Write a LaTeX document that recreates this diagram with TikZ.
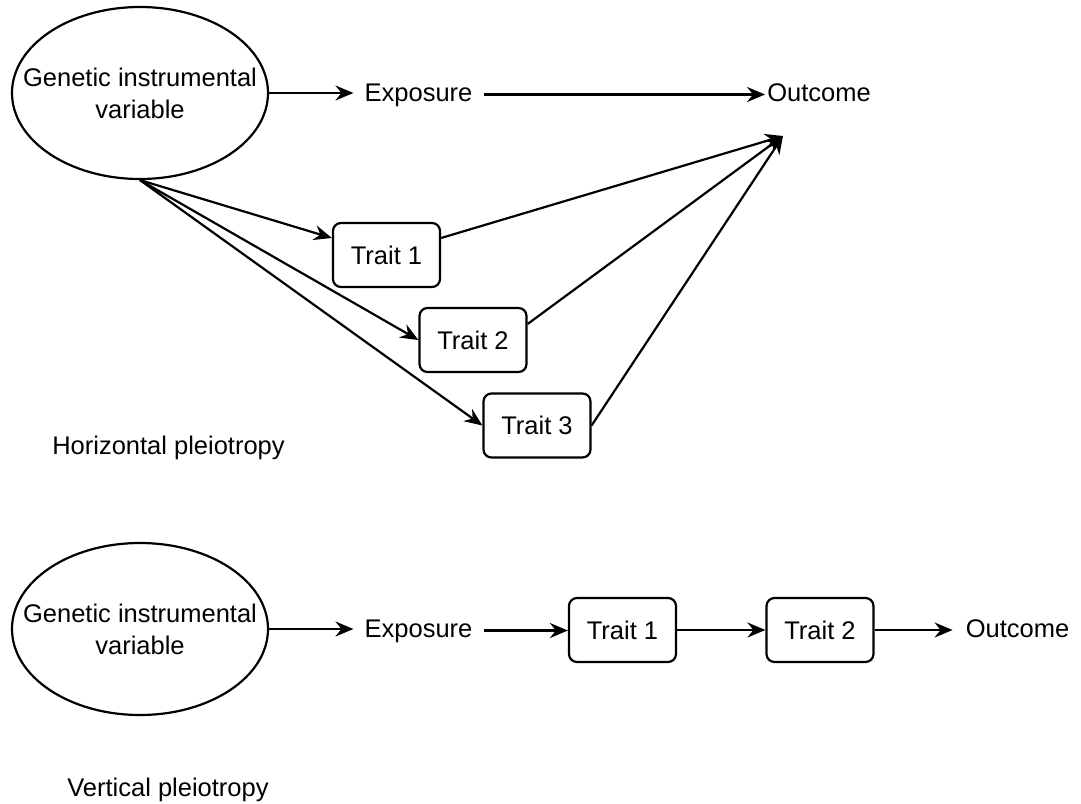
\documentclass[tikz,border=0pt]{standalone}
\usepackage{fontspec}
\setmainfont{Liberation Sans}
\usetikzlibrary{shapes.geometric,arrows.meta}
\begin{document}
\begin{tikzpicture}[x=1pt,y=-1pt,
  every node/.style={font=\fontsize{25.5}{32}\selectfont},
  gene/.style={ellipse,draw,line width=2.2pt,minimum width=256pt,minimum height=172pt,inner sep=0pt},
  genetext/.style={align=center,inner sep=0pt},
  trait/.style={draw,rounded corners=8pt,line width=2.2pt,minimum width=107pt,minimum height=64pt,inner sep=0pt},
  txt/.style={inner xsep=11pt,inner ysep=0pt,text height=18pt,text depth=5pt},
  heading/.style={inner sep=0pt,anchor=base},
  arr/.style={line width=2.2pt,-{Stealth[length=18pt,width=15pt,inset=6pt]}}
]
\useasboundingbox (0,0) rectangle (1081,803);

% --- horizontal pleiotropy ---
\node[gene] (g1) at (140,93) {};
\node[genetext] (g1t) at (g1.center) {Genetic instrumental\\variable};
\node[txt] (e1) at (418.5,94.5) {Exposure};
\node[txt,inner xsep=2pt] (o1) at (819,94.5) {Outcome};
\coordinate (c) at (783,136);
\node[trait] (t1) at (386.5,255) {Trait 1};
\node[trait] (t2) at (473,340) {Trait 2};
\node[trait] (t3) at (537,425.5) {Trait 3};
\node[heading] (hl) at (168.5,454) {Horizontal pleiotropy};

\draw[arr] (g1.east) -- (g1.east -| e1.west);
\draw[arr] (e1.east) -- (e1.east -| o1.west);
\draw[arr] (g1.south) -- ([yshift=17pt]t1.west);
\draw[arr] (g1.south) -- (t2.west);
\draw[arr] (g1.south) -- (t3.west);
\draw[arr] ([yshift=17pt]t1.east) -- (c);
\draw[arr] ([yshift=16pt]t2.east) -- (c);
\draw[arr] (t3.east) -- (c);

% --- vertical pleiotropy ---
\node[gene] (g2) at (140,629) {};
\node[genetext] (g2t) at (g2.center) {Genetic instrumental\\variable};
\node[txt] (e2) at (418.5,630.5) {Exposure};
\node[trait] (b1) at (622.5,630) {Trait 1};
\node[trait] (b2) at (820,630) {Trait 2};
\node[txt,inner xsep=13pt] (o2) at (1017.5,630.5) {Outcome};
\node[heading] (vl) at (168,796) {Vertical pleiotropy};

\draw[arr] (g2.east) -- (g2.east -| e2.west);
\draw[arr] (e2.east) -- (e2.east -| b1.west);
\draw[arr] (b1.east) -- (b1.east -| b2.west);
\draw[arr] (b2.east) -- (b2.east -| o2.west);
\end{tikzpicture}
\end{document}
